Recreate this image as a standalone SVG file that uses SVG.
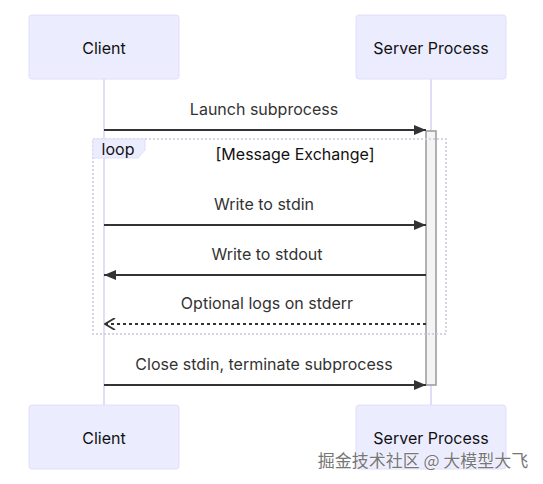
<svg xmlns="http://www.w3.org/2000/svg" width="543" height="484" viewBox="0 0 543 484">
<defs>
<style>
.actor{fill:#ECECFF;stroke:#e2defa;stroke-width:1}
.atext{font-family:Inter,"Noto Sans",sans-serif;font-size:16px;fill:#111;text-anchor:middle;dominant-baseline:central}
.life{stroke:#d8d2f4;stroke-width:1.5}
.msg{stroke:#333;stroke-width:2;fill:none}
.dash{stroke-dasharray:3,3}
.mtext{font-family:Inter,"Noto Sans",sans-serif;font-size:16px;fill:#333;text-anchor:middle}
.loop{fill:none;stroke:#c8c8dc;stroke-width:1.5;stroke-dasharray:2,2}
.act{fill:#f4f4f4;stroke:#999;stroke-width:1.5}
</style>
<marker id="arrow" viewBox="0 0 12 10" refX="12" refY="5" markerWidth="12" markerHeight="10" markerUnits="userSpaceOnUse" orient="auto">
<path d="M0,0 L12,5 L0,10 z" fill="#333"/>
</marker>
<marker id="open" viewBox="0 0 12 12" refX="11" refY="6" markerWidth="12" markerHeight="12" markerUnits="userSpaceOnUse" orient="auto">
<path d="M1,0 L11,6 L1,12" fill="none" stroke="#333" stroke-width="1.8"/>
</marker>
</defs>
<rect width="543" height="484" fill="#fff"/>
<g id="lifelines">
<line class="life" x1="104" y1="79" x2="104" y2="405"/>
<line class="life" x1="431" y1="79" x2="431" y2="405"/>
</g>
<g id="client-top"><rect class="actor" x="29" y="15" width="150" height="64" rx="3"/><text class="atext" x="104" y="48">Client</text></g>
<g id="server-top"><rect class="actor" x="356" y="15" width="150" height="64" rx="3"/><text class="atext" x="431" y="48">Server Process</text></g>
<g id="activation"><rect class="act" x="426" y="131" width="10" height="254"/></g>
<g id="loop">
<rect class="loop" x="93" y="139" width="353" height="195"/>
<path d="M93,139 H145 V150 L138,158 H93 Z" fill="#ECECFF" stroke="#e2defa" stroke-width="1"/>
<text x="118" y="155" font-family="Inter,'Noto Sans',sans-serif" font-size="16" fill="#111" text-anchor="middle">loop</text>
<text x="295" y="160" font-family="Inter,'Noto Sans',sans-serif" font-size="16" fill="#111" text-anchor="middle">[Message Exchange]</text>
</g>
<g id="connectors">
<text class="mtext" x="264" y="115">Launch subprocess</text>
<line class="msg" x1="104" y1="130" x2="426" y2="130" marker-end="url(#arrow)"/>
<text class="mtext" x="264" y="210">Write to stdin</text>
<line class="msg" x1="104" y1="225" x2="426" y2="225" marker-end="url(#arrow)"/>
<text class="mtext" x="267" y="260">Write to stdout</text>
<line class="msg" x1="426" y1="275" x2="104" y2="275" marker-end="url(#arrow)"/>
<text class="mtext" x="267" y="309">Optional logs on stderr</text>
<line class="msg dash" x1="426" y1="324" x2="105" y2="324" marker-end="url(#open)"/>
<text class="mtext" x="264" y="370">Close stdin, terminate subprocess</text>
<line class="msg" x1="104" y1="385" x2="426" y2="385" marker-end="url(#arrow)"/>
</g>
<g id="client-bottom"><rect class="actor" x="29" y="405" width="150" height="64" rx="3"/><text class="atext" x="104" y="438">Client</text></g>
<g id="server-bottom"><rect class="actor" x="356" y="405" width="150" height="64" rx="3"/><text class="atext" x="431" y="438">Server Process</text></g>
<text x="423" y="467" font-family="'Noto Sans CJK SC',sans-serif" font-size="17" fill="#777" stroke="#fff" stroke-width="0.6" paint-order="stroke" text-anchor="middle">掘金技术社区 @ 大模型大飞</text>
</svg>
